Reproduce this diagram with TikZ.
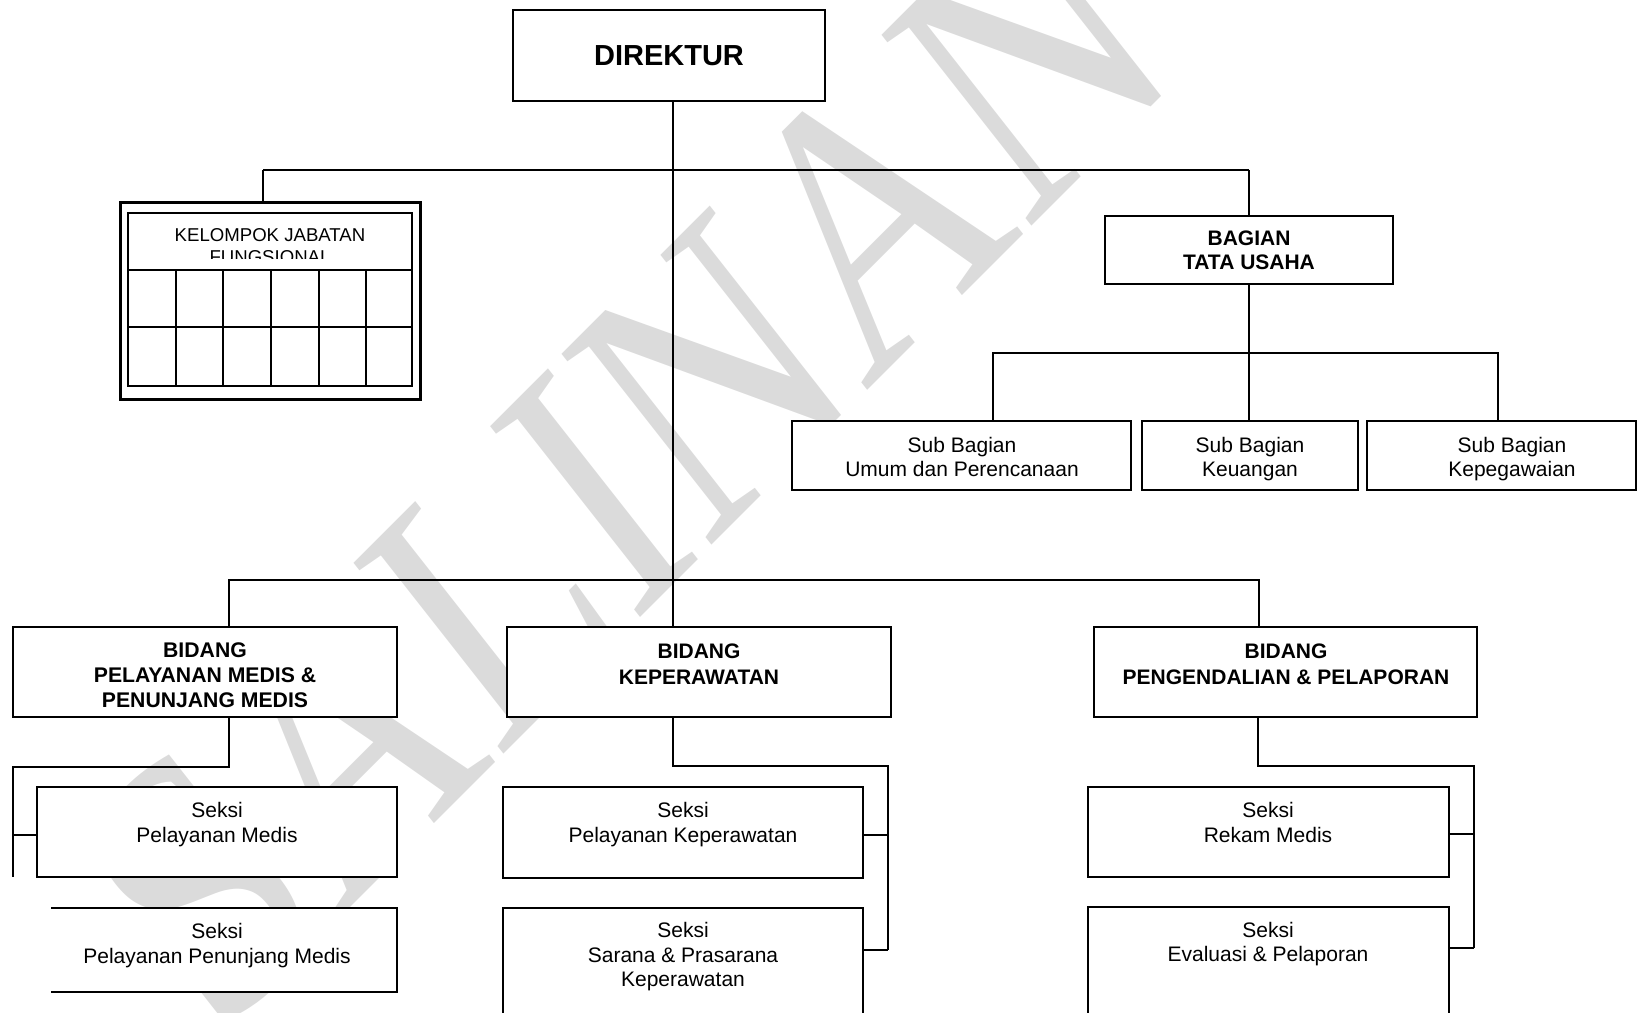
\documentclass[tikz,border=0pt]{standalone}
\usepackage{fontspec}
\setmainfont{Liberation Sans}
\newfontfamily\wmfont{Liberation Serif}
\definecolor{wmgray}{RGB}{219,219,219}

% rectangular unit: name, x1, y1, x2, y2 (top-left / bottom-right)
\newcommand\unitbox[6][]{%
  \node[box,#1,minimum width={(#5-#3)*1pt},minimum height={(#6-#4)*1pt}]
    (#2) at ({(#3+#5)/2},{(#4+#6)/2}) {};}

\begin{document}
\begin{tikzpicture}[x=1pt,y=-1pt,
  box/.style={draw,fill=white,line width=1.8pt,inner sep=0pt,outer sep=0pt,rectangle},
  link/.style={line width=1.8pt},
  lbl/.style={inner sep=0pt,outer sep=0pt,align=center,text=black},
  head/.style={lbl,font=\bfseries\fontsize{21}{26}\selectfont},
  headt/.style={lbl,font=\bfseries\fontsize{21.2}{25}\selectfont},
  body/.style={lbl,font=\fontsize{21}{24.5}\selectfont}]

\useasboundingbox (0,0) rectangle (1637,1012);
\clip (0,0) rectangle (1637,1012);

% watermark, slanted along the diagonal
\begin{scope}[shift={(625,463)},rotate=45,xslant=0.12]
  \node[transform shape,inner sep=0pt,text=wmgray,
        font=\wmfont\fontsize{368}{368}\selectfont]
    (wm) at (0,0) {\scalebox{0.85}[1]{SALINAN}};
\end{scope}

% ---- units ----
\unitbox{dir}{513}{10}{825}{101}
\unitbox{tu}{1105}{216}{1393}{284}
\unitbox{sb1}{792}{421}{1131}{490}
\unitbox{sb2}{1142}{421}{1358}{490}
\unitbox{sb3}{1367}{421}{1636}{490}
\unitbox{bpm}{13}{627}{397}{717}
\unitbox{bkp}{507}{627}{891}{717}
\unitbox{bpp}{1094}{627}{1477}{717}
\unitbox{s1}{37}{787}{397}{877}
\unitbox[draw=none]{s2}{51}{908}{397}{992}
\unitbox{s3}{503}{787}{863}{878}
\unitbox{s4}{503}{908}{863}{1040}
\unitbox{s5}{1088}{787}{1449}{877}
\unitbox{s6}{1088}{907}{1449}{1040}
\draw[line width=1.8pt] (s2.north west) -- (s2.north east) -- (s2.south east) -- (s2.south west);

% functional group table
\unitbox[line width=3pt]{kjf}{120}{202}{420}{399}
\unitbox[line width=2.4pt]{kjfin}{128}{213}{412}{386}
\begin{scope}
  \clip (128,213) rectangle (412,258);
  \node[lbl,font=\fontsize{18.6}{21.5}\selectfont] (kjft) at (270,248)
    {\strut KELOMPOK JABATAN\\\strut FUNGSIONAL};
\end{scope}
\draw[line width=2.2pt] (kjfin.west |- 0,270) -- (kjfin.east |- 0,270);
\draw[line width=2.2pt] (kjfin.west |- 0,327) -- (kjfin.east |- 0,327);
\foreach \cx in {176,223,271,319,366}
  \draw[line width=2.2pt] (\cx,270) -- (\cx,386);

% ---- labels ----
\node[lbl,font=\bfseries\fontsize{29}{35}\selectfont] (dirt) at (669,58.4) {\strut DIREKTUR};
\node[lbl,font=\bfseries\fontsize{21}{24}\selectfont] (tut) at (1249,252.7) {\strut BAGIAN\\\strut TATA USAHA};
\node[body] (sb1t) at (962,459.5) {\strut Sub Bagian\\\strut Umum dan Perencanaan};
\node[body] (sb2t) at (1250,459.5) {\strut Sub Bagian\\\strut Keuangan};
\node[body] (sb3t) at (1512,459.5) {\strut Sub Bagian\\\strut Kepegawaian};
\node[headt] (bpmt) at (205,677.5) {\strut BIDANG\\\strut PELAYANAN MEDIS \&\\\strut PENUNJANG MEDIS};
\node[head] (bkpt) at (699,666.5) {\strut BIDANG\\\strut KEPERAWATAN};
\node[head] (bppt) at (1286,666.7) {\strut BIDANG\\\strut PENGENDALIAN \& PELAPORAN};
\node[body] (s1t) at (217,825) {\strut Seksi\\\strut Pelayanan Medis};
\node[body] (s2t) at (217,946) {\strut Seksi\\\strut Pelayanan Penunjang Medis};
\node[body] (s3t) at (683,825) {\strut Seksi\\\strut Pelayanan Keperawatan};
\node[body] (s4t) at (683,957.5) {\strut Seksi\\\strut Sarana \& Prasarana\\\strut Keperawatan};
\node[body] (s5t) at (1268,825) {\strut Seksi\\\strut Rekam Medis};
\node[body] (s6t) at (1268,944.5) {\strut Seksi\\\strut Evaluasi \& Pelaporan};

% ---- connectors ----
\coordinate (trunk) at (673,0);
\coordinate (barA) at (0,170);

% director trunk
\draw[link] (dir.south -| trunk) -- (bkp.north -| trunk);
% upper bar
\draw[link] (263,170) -- (tu.north |- barA);
\draw[link] (263,170) -- (kjf.north -| 263,0);
\draw[link] (tu.north |- barA) -- (tu.north);
% sub-divisions of the secretariat
\draw[link] (tu.south) -- (tu.south |- sb2.north);
\draw[link] (sb1.north -| 993,0) -- (993,353) -- (1498,353) -- (sb3.north -| 1498,0);
% lower bar
\draw[link] (bpm.north -| 229,0) -- (229,580) -- (1259,580) -- (bpp.north -| 1259,0);

% sections, left
\coordinate (lA) at (229,767);
\coordinate (lB) at (13,767);
\draw[link] (bpm.south -| lA) -- (lA) -- (lB) -- (13,877);
\draw[link] (13,835) -- (s1.west |- 0,835);
% sections, middle
\coordinate (mA) at (673,766);
\coordinate (mB) at (888,766);
\draw[link] (bkp.south -| mA) -- (mA) -- (mB) -- (888,950);
\draw[link] (888,835) -- (s3.east |- 0,835);
\draw[link] (888,950) -- (s4.east |- 0,950);
% sections, right
\coordinate (rA) at (1258,766);
\coordinate (rB) at (1474,766);
\draw[link] (bpp.south -| rA) -- (rA) -- (rB) -- (1474,948);
\draw[link] (1474,834) -- (s5.east |- 0,834);
\draw[link] (1474,948) -- (s6.east |- 0,948);
\end{tikzpicture}
\end{document}
